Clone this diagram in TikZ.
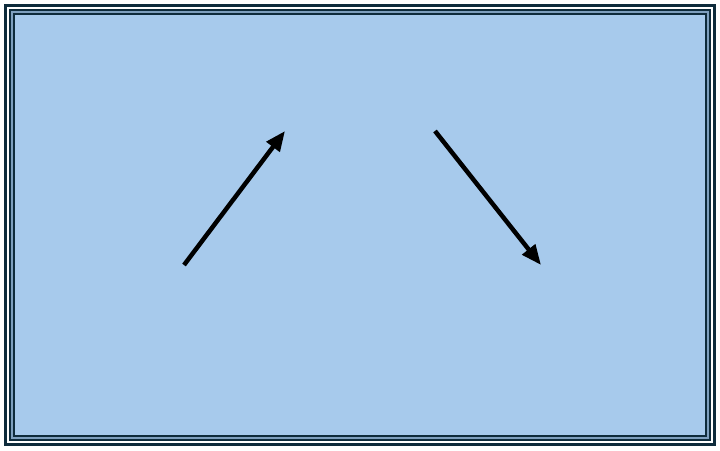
\documentclass[tikz,border=0pt]{standalone}
\usepackage{tikz}
\usetikzlibrary{arrows.meta,positioning}
\definecolor{framedark}{HTML}{0E2B3B}
\definecolor{framelight}{HTML}{7E9FBE}
\definecolor{skyfill}{HTML}{A7CAEC}
\tikzset{
  vecarrow/.style={line width=4.5pt, -{Triangle[length=20pt,width=16pt]}},
}

\begin{document}
\begin{tikzpicture}[x=1pt,y=-1pt]
      \useasboundingbox (0,0) rectangle (720,450);
      \fill[white] (0,0) rectangle (720,450);
      % frame
      \draw[framedark, line width=3pt] (5.5,5.5) rectangle (714.5,444.5);
      \draw[framedark, line width=2pt] (10,10) rectangle (710,440);
      \draw[framelight, line width=2pt] (12,12) rectangle (708,438);
      \filldraw[skyfill, draw=framedark, line width=2pt] (14,14) rectangle (706,436);
      % arrows
      \coordinate (l1) at (184,265);
      \coordinate (l2) at (285,131);
      \coordinate (r1) at (435,131);
      \coordinate (r2) at (541,265);
      \draw[vecarrow] (l1) -- (l2);
      \draw[vecarrow] (r1) -- (r2);
\end{tikzpicture}
\end{document}
